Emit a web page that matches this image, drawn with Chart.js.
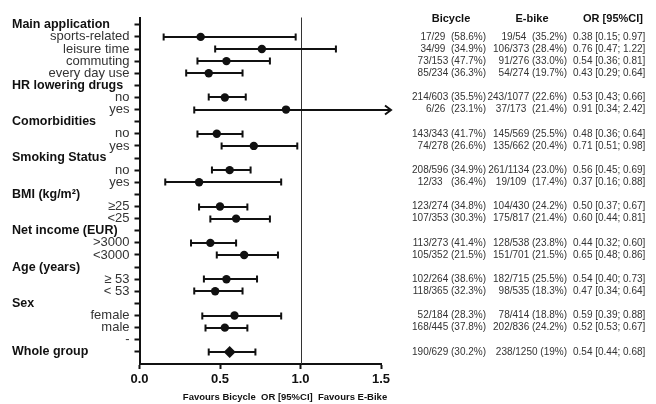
<!DOCTYPE html>
<html>
<head>
<meta charset="utf-8">
<script src="https://cdn.jsdelivr.net/npm/chart.js@4.4.1/dist/chart.umd.min.js"></script>
<style>
  html, body { margin: 0; background: #fff; }
</style>
</head>
<body>
<canvas id="forest" width="656" height="404"></canvas>
<script>
// rows, top to bottom; headings are drawn bold on the left
const rowLabels = [
  'Main application', 'sports-related', 'leisure time', 'commuting', 'every day use',
  'HR lowering drugs', 'no', 'yes',
  'Comorbidities', 'no', 'yes',
  'Smoking Status', 'no', 'yes',
  'BMI (kg/m²)', '≥25', '<25',
  'Net income (EUR)', '>3000', '<3000',
  'Age (years)', '≥ 53', '< 53',
  'Sex', 'female', 'male',
  '-', 'Whole group',
];
const headingRows = [0, 5, 8, 11, 14, 17, 20, 23, 27];

// plotted odds ratios and CI ends (null = no mark)
const oddsRatio = [null, 0.38, 0.76, 0.54, 0.43, null, 0.53, 0.91, null, 0.48, 0.71, null, 0.56, 0.37,
  null, 0.50, 0.60, null, 0.44, 0.65, null, 0.54, 0.47, null, 0.59, 0.53, null, 0.56];
const ciLow = [null, 0.15, 0.47, 0.36, 0.29, null, 0.43, 0.34, null, 0.36, 0.51, null, 0.45, 0.16,
  null, 0.37, 0.44, null, 0.32, 0.48, null, 0.40, 0.34, null, 0.39, 0.41, null, 0.43];
const ciHigh = [null, 0.97, 1.22, 0.81, 0.64, null, 0.66, 2.42, null, 0.64, 0.98, null, 0.69, 0.88,
  null, 0.67, 0.81, null, 0.60, 0.86, null, 0.73, 0.64, null, 0.88, 0.67, null, 0.72];

// table columns on the right
const bicycleText = ['', '17/29  (58.6%)', '34/99  (34.9%)', '73/153 (47.7%)', '85/234 (36.3%)',
  '', '214/603 (35.5%)', '6/26  (23.1%)', '', '143/343 (41.7%)', '74/278 (26.6%)',
  '', '208/596 (34.9%)', '12/33   (36.4%)', '', '123/274 (34.8%)', '107/353 (30.3%)',
  '', '113/273 (41.4%)', '105/352 (21.5%)', '', '102/264 (38.6%)', '118/365 (32.3%)',
  '', '52/184 (28.3%)', '168/445 (37.8%)', '', '190/629 (30.2%)'];
const ebikeText = ['', '19/54  (35.2%)', '106/373 (28.4%)', '91/276 (33.0%)', '54/274 (19.7%)',
  '', '243/1077 (22.6%)', '37/173  (21.4%)', '', '145/569 (25.5%)', '135/662 (20.4%)',
  '', '261/1134 (23.0%)', '19/109  (17.4%)', '', '104/430 (24.2%)', '175/817 (21.4%)',
  '', '128/538 (23.8%)', '151/701 (21.5%)', '', '182/715 (25.5%)', '98/535 (18.3%)',
  '', '78/414 (18.8%)', '202/836 (24.2%)', '', '238/1250 (19%)'];
const orText = ['', '0.38 [0.15; 0.97]', '0.76 [0.47; 1.22]', '0.54 [0.36; 0.81]', '0.43 [0.29; 0.64]',
  '', '0.53 [0.43; 0.66]', '0.91 [0.34; 2.42]', '', '0.48 [0.36; 0.64]', '0.71 [0.51; 0.98]',
  '', '0.56 [0.45; 0.69]', '0.37 [0.16; 0.88]', '', '0.50 [0.37; 0.67]', '0.60 [0.44; 0.81]',
  '', '0.44 [0.32; 0.60]', '0.65 [0.48; 0.86]', '', '0.54 [0.40; 0.73]', '0.47 [0.34; 0.64]',
  '', '0.59 [0.39; 0.88]', '0.52 [0.53; 0.67]', '', '0.54 [0.44; 0.68]'];
const tableHeaders = ['Bicycle', 'E-bike', 'OR [95%CI]'];

const xTicks = [0, 0.5, 1.0, 1.5];
const FONT = '"Liberation Sans", Arial, sans-serif';
const INK = '#111';

const whiskers = {
  id: 'whiskers',
  beforeDatasetsDraw(chart) {
    const { ctx, chartArea, scales: { x, y } } = chart;
    ctx.save();
    // reference line at OR = 1
    ctx.strokeStyle = '#333';
    ctx.lineWidth = 1;
    const x1 = Math.round(x.getPixelForValue(1)) + 0.5;
    ctx.beginPath();
    ctx.moveTo(x1, chartArea.top);
    ctx.lineTo(x1, chartArea.bottom);
    ctx.stroke();

    ctx.strokeStyle = INK;
    ctx.lineWidth = 2;
    ciLow.forEach((lo, i) => {
      if (lo == null) return;
      const py = Math.round(y.getPixelForValue(i));
      const left = x.getPixelForValue(lo);
      const clipped = ciHigh[i] > x.max;
      const right = clipped ? chartArea.right + 10 : x.getPixelForValue(ciHigh[i]);
      ctx.beginPath();
      ctx.moveTo(left, py);
      ctx.lineTo(right, py);
      ctx.moveTo(left, py - 3.5);
      ctx.lineTo(left, py + 3.5);
      if (clipped) {
        ctx.moveTo(right - 6, py - 4.5);
        ctx.lineTo(right, py);
        ctx.lineTo(right - 6, py + 4.5);
      } else {
        ctx.moveTo(right, py - 3.5);
        ctx.lineTo(right, py + 3.5);
      }
      ctx.stroke();
    });
    ctx.restore();
  },
};

const textLayer = {
  id: 'textLayer',
  afterDraw(chart) {
    const { ctx, chartArea, scales: { y } } = chart;
    ctx.save();
    ctx.textBaseline = 'middle';

    // group headings
    ctx.fillStyle = INK;
    ctx.font = `bold 12.5px ${FONT}`;
    ctx.textAlign = 'left';
    headingRows.forEach((i) => ctx.fillText(rowLabels[i], 12, y.getPixelForValue(i)));

    // table header
    ctx.font = `bold 11px ${FONT}`;
    ctx.textAlign = 'center';
    const hy = chartArea.top + 1;
    ctx.fillText(tableHeaders[0], 451, hy);
    ctx.fillText(tableHeaders[1], 532, hy);
    ctx.fillText(tableHeaders[2], 613, hy);

    // table rows
    ctx.fillStyle = '#333';
    ctx.font = `10px ${FONT}`;
    rowLabels.forEach((_, i) => {
      const py = y.getPixelForValue(i);
      ctx.textAlign = 'right';
      ctx.fillText(bicycleText[i], 486, py);
      ctx.fillText(ebikeText[i], 567, py);
      ctx.textAlign = 'left';
      ctx.fillText(orText[i], 573, py);
    });

    // axis caption
    ctx.fillStyle = INK;
    ctx.font = `bold 9.5px ${FONT}`;
    ctx.textAlign = 'center';
    ctx.fillText('Favours Bicycle  OR [95%CI]  Favours E-Bike', 285, 397);
    ctx.restore();
  },
};

const points = [];
oddsRatio.forEach((v, i) => { if (v != null) points.push({ x: v, y: i }); });

new Chart(document.getElementById('forest'), {
  type: 'scatter',
  data: {
    datasets: [{
      data: points,
      backgroundColor: INK,
      borderColor: INK,
      pointStyle: (c) => (c.raw && c.raw.y === 27 ? 'rectRot' : 'circle'),
      pointRadius: (c) => (c.raw && c.raw.y === 27 ? 6 : 4.2),
      borderWidth: 0,
      clip: false,
    }],
  },
  options: {
    responsive: false,
    animation: false,
    devicePixelRatio: 1,
    layout: { padding: { left: 0, right: 275, top: 17.5, bottom: 0 } },
    plugins: { legend: { display: false }, tooltip: { enabled: false } },
    scales: {
      x: {
        type: 'linear',
        min: 0,
        max: 1.5,
        afterBuildTicks: (s) => { s.ticks = xTicks.map((v) => ({ value: v })); },
        afterFit: (s) => { s.height = 40; },
        ticks: {
          callback: (v) => v.toFixed(1),
          color: INK,
          padding: 3,
          font: { family: FONT, size: 13, weight: 'bold' },
        },
        grid: { drawOnChartArea: false, tickLength: 5, tickWidth: 2, tickColor: INK },
        border: { display: true, width: 2, color: INK },
      },
      y: {
        type: 'linear',
        reverse: true,
        min: -0.6,
        max: 28,
        afterBuildTicks: (s) => { s.ticks = rowLabels.map((_, i) => ({ value: i })); },
        afterFit: (s) => { s.width = 139.5; },
        ticks: {
          autoSkip: false,
          callback: (v) => (headingRows.includes(v) ? '' : rowLabels[v]),
          color: '#333',
          padding: 5,
          font: { family: FONT, size: 13 },
        },
        grid: { drawOnChartArea: false, tickLength: 5, tickWidth: 2, tickColor: INK },
        border: { display: true, width: 2, color: INK },
      },
    },
  },
  plugins: [whiskers, textLayer],
});
</script>
</body>
</html>
